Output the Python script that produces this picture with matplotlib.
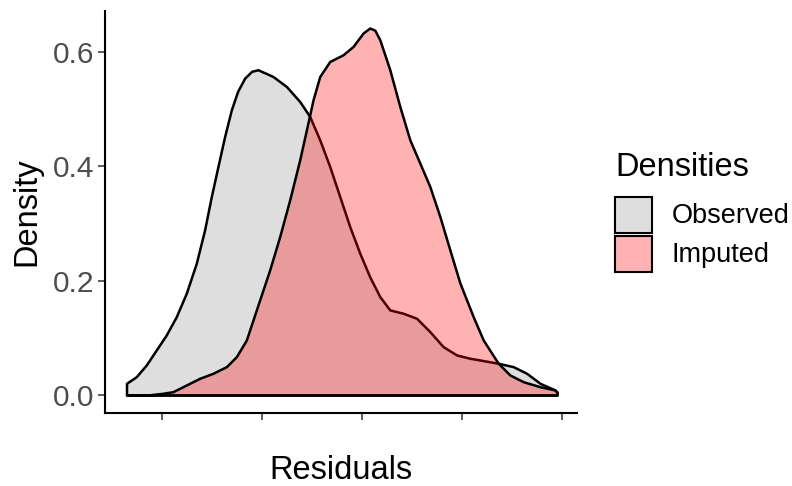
import matplotlib.pyplot as plt
from matplotlib.patches import Rectangle

# density curves (x in residual units, y in density)
obs_x = [-2.35, -2.35, -2.253, -2.153, -2.053, -1.953, -1.853, -1.753, -1.653, -1.57,
         -1.503, -1.437, -1.37, -1.303, -1.24, -1.17, -1.1, -1.037, -0.887, -0.753, -0.62,
         -0.52, -0.42, -0.32, -0.22, -0.12, -0.02, 0.08, 0.18, 0.28, 0.413, 0.547,
         0.68, 0.813, 0.947, 1.08, 1.18, 1.363, 1.513, 1.647, 1.78, 1.93, 1.95, 1.95]
obs_y = [0.0, 0.0205, 0.032, 0.0525, 0.0788, 0.1051, 0.1371, 0.1781, 0.2306, 0.289,
         0.3473, 0.3998, 0.4524, 0.4991, 0.5315, 0.5545, 0.5665, 0.5692, 0.5574, 0.5399,
         0.5137, 0.4874, 0.4466, 0.3998, 0.3473, 0.2947, 0.2482, 0.2067, 0.1722, 0.1489,
         0.1431, 0.1343, 0.1109, 0.0846, 0.0701, 0.0643, 0.0613, 0.0555, 0.0496, 0.038,
         0.0205, 0.0088, 0.005, 0.0]

imp_x = [-2.35, -2.12, -1.987, -1.887, -1.753, -1.62, -1.487, -1.353, -1.253, -1.153,
         -1.12, -1.02, -0.92, -0.82, -0.72, -0.62, -0.553, -0.487, -0.42, -0.32, -0.187,
         -0.087, 0.013, 0.08, 0.13, 0.18, 0.28, 0.38, 0.48, 0.58, 0.68, 0.78, 0.88, 0.98,
         1.113, 1.213, 1.363, 1.48, 1.613, 1.78, 1.93, 1.95, 1.95]
imp_y = [0.0, 0.0004, 0.003, 0.0058, 0.0175, 0.0292, 0.038, 0.0496, 0.0671, 0.0963,
         0.1138, 0.1664, 0.2189, 0.2772, 0.3415, 0.4116, 0.4641, 0.5166, 0.5574, 0.5837,
         0.5954, 0.61, 0.6335, 0.6422, 0.6385, 0.6217, 0.5692, 0.5049, 0.4466, 0.4058,
         0.3648, 0.3123, 0.2539, 0.1961, 0.1371, 0.0963, 0.0555, 0.035, 0.0233, 0.0145,
         0.0088, 0.005, 0.0]

x_ticks = [-2, -1, 0, 1, 2]
y_ticks = [0.0, 0.2, 0.4, 0.6]
y_tick_labels = ['0.0', '0.2', '0.4', '0.6']
labels = ['Observed', 'Imputed']

plt.rcParams['font.family'] = ['Liberation Sans', 'DejaVu Sans']

W, H = 792, 486
fig = plt.figure(figsize=(W / 100, H / 100), dpi=100)
ax = fig.add_axes([105 / W, 1 - 413 / H, (577 - 105) / W, (413 - 11) / H])

# observed first, imputed on top (ggplot draw order)
ax.fill_between(obs_x, obs_y, 0, facecolor=(0.745, 0.745, 0.745, 0.5),
                edgecolor='black', linewidth=1.8, joinstyle='round', zorder=2)
ax.fill_between(imp_x, imp_y, 0, facecolor=(1, 0, 0, 0.3),
                edgecolor='black', linewidth=1.8, joinstyle='round', zorder=3)

ax.set_xlim(-2.565, 2.15)
ax.set_ylim(-0.0315, 0.672)
ax.set_xticks(x_ticks)
ax.set_xticklabels([])
ax.set_yticks(y_ticks)
ax.set_yticklabels(y_tick_labels)
ax.tick_params(axis='both', colors='#333333', length=5, width=1.1, direction='out')
ax.tick_params(axis='y', labelsize=21.5, labelcolor='#4d4d4d', pad=3)

for s in ['top', 'right']:
    ax.spines[s].set_visible(False)
for s in ['left', 'bottom']:
    ax.spines[s].set_linewidth(1.5)
    ax.spines[s].set_color('black')

fig.text(341 / W, 1 - 470 / H, 'Residuals', fontsize=23.5, ha='center', va='center')
fig.text(27 / W, 1 - 212 / H, 'Density', fontsize=23.5, ha='center', va='center',
         rotation=90)

# legend drawn by hand
fig.text(615 / W, 1 - 168 / H, 'Densities', fontsize=23.5, ha='left', va='center')
key_fill = ['#dedede', '#ffb2b2']
key_top = [197, 236]
for lab, col, top in zip(labels, key_fill, key_top):
    fig.add_artist(Rectangle((615 / W, 1 - (top + 36) / H), 37 / W, 36 / H,
                             facecolor=col, edgecolor='black', linewidth=1.5,
                             transform=fig.transFigure))
    fig.text(672 / W, 1 - (top + 19) / H, lab, fontsize=19.5, ha='left', va='center')

fig.savefig('out.png', dpi=100, facecolor='white')
